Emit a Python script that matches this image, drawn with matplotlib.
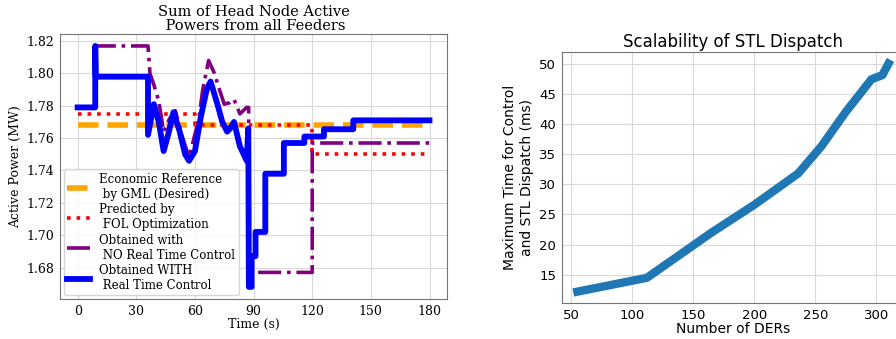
import matplotlib
matplotlib.use("Agg")
import matplotlib.pyplot as plt

# left panel: head node active power (MW) vs time (s)
ref_t = [0, 180]
ref_p = [1.768, 1.768]

fol_t = [0, 60, 60, 120, 120, 180]
fol_p = [1.775, 1.775, 1.768, 1.768, 1.750, 1.750]

no_rtc_t = [0, 9, 9, 36, 37, 39, 41.5, 44, 47, 50, 53, 57, 62, 64, 67, 70, 72, 75,
            78, 80, 83, 86.5, 87.5, 87.5, 120, 120, 180]
no_rtc_p = [1.779, 1.779, 1.817, 1.817, 1.800, 1.793, 1.783, 1.764, 1.772, 1.777, 1.763,
            1.748, 1.772, 1.790, 1.808, 1.800, 1.792, 1.781, 1.782, 1.784, 1.775, 1.779,
            1.779, 1.677, 1.677, 1.757, 1.757]

rtc_t = [0, 9, 9, 9.3, 36, 36, 39, 41.5, 44, 46.5, 49, 52, 55, 57, 60, 63, 66, 68, 70,
         71.5, 74, 76.5, 78, 80, 83, 86.5, 87.3, 87.6, 89, 89, 91, 91, 96, 96, 105.5,
         105.5, 116, 116, 126, 126, 141, 141, 180]
rtc_p = [1.779, 1.779, 1.817, 1.798, 1.798, 1.762, 1.781, 1.770, 1.752, 1.763, 1.776,
         1.765, 1.750, 1.746, 1.752, 1.773, 1.790, 1.795, 1.787, 1.781, 1.770, 1.764,
         1.766, 1.770, 1.755, 1.746, 1.766, 1.668, 1.668, 1.687, 1.687, 1.702, 1.702,
         1.738, 1.738, 1.757, 1.757, 1.761, 1.761, 1.7655, 1.7655, 1.771, 1.771]

labels = ["Economic Reference\n by GML (Desired)",
          "Predicted by\n FOL Optimization",
          "Obtained with\n NO Real Time Control",
          "Obtained WITH\n Real Time Control"]

# right panel: dispatch time vs number of DERs
ders = [55, 112, 165, 200, 236, 255, 275, 296, 305, 310]
max_time = [12.2, 14.5, 22.0, 26.6, 31.8, 36.3, 42.0, 47.4, 48.1, 50.0]

fig = plt.figure(figsize=(8.96, 3.39), dpi=100)

ax1 = fig.add_axes([0.067, 0.118, 0.432, 0.782])
ax1.plot(ref_t, ref_p, color="orange", linestyle="--", linewidth=4, label=labels[0], zorder=2)
ax1.plot(fol_t, fol_p, color="red", linestyle=":", linewidth=2.6, label=labels[1], zorder=3)
ax1.plot(no_rtc_t, no_rtc_p, color="purple", linestyle="-.", linewidth=2.6, label=labels[2], zorder=4)
ax1.plot(rtc_t, rtc_p, color="blue", linestyle="-", linewidth=4.2, label=labels[3], zorder=5)
ax1.set_xticks([0, 30, 60, 90, 120, 150, 180])
ax1.set_yticks([1.68, 1.70, 1.72, 1.74, 1.76, 1.78, 1.80, 1.82])
ax1.grid(True, color="0.85")
ax1.set_axisbelow(True)
for lbl in ax1.get_xticklabels() + ax1.get_yticklabels():
    lbl.set_family("DejaVu Serif")
ax1.tick_params(labelsize=9, length=0, pad=4)
ax1.set_xlabel("Time (s)", family="DejaVu Serif", fontsize=9, labelpad=0)
ax1.set_ylabel("Active Power (MW)", family="DejaVu Serif", fontsize=9, labelpad=3)
ax1.set_title("Sum of Head Node Active\n Powers from all Feeders", family="DejaVu Serif",
              fontsize=10.5, linespacing=1.0, pad=3)
leg = ax1.legend(loc="lower left", prop={"family": "DejaVu Serif", "size": 8.5},
                 handlelength=1.9, labelspacing=0.2, borderpad=0.3, handletextpad=0.8,
                 borderaxespad=0.3)
for sp in ax1.spines.values():
    sp.set_color("0.45")

ax2 = fig.add_axes([0.627, 0.106, 0.382, 0.740])
ax2.plot(ders, max_time, color="#1f77b4", linewidth=6)
ax2.set_xticks([50, 100, 150, 200, 250, 300])
ax2.set_yticks([15, 20, 25, 30, 35, 40, 45, 50])
ax2.grid(True, color="0.85")
ax2.set_axisbelow(True)
ax2.tick_params(labelsize=9.5, length=0, pad=4)
ax2.set_xlabel("Number of DERs", fontsize=10, labelpad=0)
ax2.set_ylabel("Maximum Time for Control\nand STL Dispatch (ms)", fontsize=10, labelpad=4)
ax2.set_title("Scalability of STL Dispatch", fontsize=12, pad=4)
for sp in ax2.spines.values():
    sp.set_color("0.45")

fig.savefig("out.png", dpi=100)
